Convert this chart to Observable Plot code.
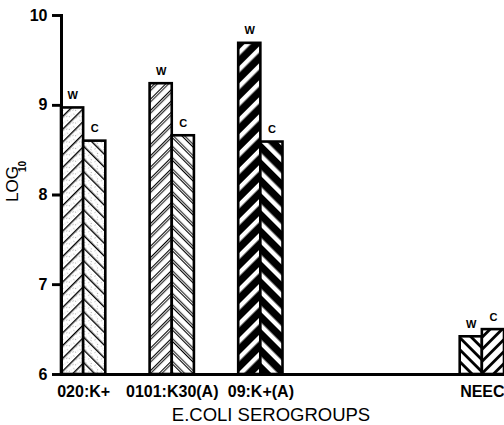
<!DOCTYPE html>
<html><head><meta charset="utf-8">
<script src="https://cdn.jsdelivr.net/npm/d3@7"></script>
<script src="https://cdn.jsdelivr.net/npm/@observablehq/plot@0.6"></script>
<style>body{margin:0;background:#fff}</style>
</head><body><div id="chart"></div>
<script>
// ---- data ----
const groups = ["020:K+", "0101:K30(A)", "09:K+(A)", "NEEC"];
const series = ["W", "C"];
const wValues = [8.97, 9.24, 9.69, 6.42];
const cValues = [8.60, 8.66, 8.59, 6.50];
const yTicks = [6, 7, 8, 9, 10];
const xTitle = "E.COLI SEROGROUPS";
const yTitle = "LOG";
const yTitleSub = "10";

// ---- layout helpers (not data): ordered slots for bars and empty gaps ----
const gapSlots = [2, 2, 8];
const key = (g, s) => g + "|" + s;
const slotDomain = [];
groups.forEach((g, i) => {
  series.forEach(s => slotDomain.push(key(g, s)));
  if (i < gapSlots.length) for (let k = 0; k < gapSlots[i]; k++) slotDomain.push("gap" + i + "_" + k);
});
const slot = (g, s) => slotDomain.indexOf(key(g, s));
const rows = groups.flatMap((g, i) => [
  {group: g, series: "W", value: wValues[i], gi: i},
  {group: g, series: "C", value: cValues[i], gi: i}
]);
const W = 504, marginLeft = 61, marginRight = 0;
const frameW = W - marginLeft - marginRight;
const tickLen = 9;
const FONT = "'Liberation Sans', Arial, Helvetica, sans-serif";

const plot = Plot.plot({
  width: W,
  height: 425,
  marginLeft, marginRight,
  marginTop: 15,
  marginBottom: 51,
  style: {fontFamily: FONT, background: "white", color: "black"},
  x: {domain: [0, slotDomain.length], axis: null},
  y: {domain: [yTicks[0], yTicks[yTicks.length - 1]], axis: null},
  color: {type: "identity"},
  marks: [
    Plot.rectY(rows, {
      x1: d => slot(d.group, d.series),
      x2: d => slot(d.group, d.series) + 1,
      y1: () => yTicks[0], y2: "value",
      fill: d => `url(#pat-${d.gi}-${d.series})`,
      stroke: "black", strokeWidth: 2.6
    }),
    Plot.text(rows, {
      x: d => slot(d.group, d.series) + 0.5, y: "value", text: "series",
      dy: -9, lineAnchor: "bottom", fontSize: 11, fontWeight: "bold"
    }),
    Plot.ruleY([yTicks[0]], {strokeWidth: 3}),
    Plot.frame({anchor: "left", strokeWidth: 3}),
    // explicit tick marks to the left of the axis line
    Plot.ruleY(yTicks, {
      y: d => d, dx: -tickLen, insetRight: frameW - tickLen,
      stroke: "black", strokeWidth: 2.6
    }),
    Plot.axisY(yTicks, {
      tickSize: tickLen, tickPadding: 5, stroke: "black", strokeWidth: 2.6, label: null,
      tickFormat: d => String(d),
      fontSize: 16, fontWeight: "bold"
    }),
    Plot.text(groups, {
      x: g => slot(g, "W") + 1, frameAnchor: "bottom", text: d => d,
      dy: 22, lineAnchor: "bottom",
      fontSize: 16, fontWeight: "bold"
    }),
    Plot.text([xTitle], {
      frameAnchor: "bottom", text: d => d, dx: -12, dy: 46, lineAnchor: "bottom",
      fontSize: 18.5
    }),
    Plot.text([yTitle], {
      frameAnchor: "left", text: d => d, rotate: -90, dx: -44, dy: 7,
      lineAnchor: "bottom", fontSize: 17
    }),
    Plot.text([yTitleSub], {
      frameAnchor: "left", text: d => d, rotate: -90, dx: -36, dy: -23,
      lineAnchor: "bottom", fontSize: 10, fontWeight: "bold"
    })
  ]
});

// ---- hatch patterns ----
const defs = d3.select(plot).insert("defs", ":first-child");
function hatch(id, angle, size, bg, stripes, dots) {
  const p = defs.append("pattern").attr("id", id)
    .attr("patternUnits", "userSpaceOnUse")
    .attr("width", size).attr("height", size)
    .attr("patternTransform", `rotate(${angle})`);
  p.append("rect").attr("width", size).attr("height", size).attr("fill", bg);
  for (const [x, w, c] of stripes)
    p.append("rect").attr("x", x).attr("y", 0).attr("width", w).attr("height", size).attr("fill", c);
  for (const [cx, cy, r, c] of (dots || []))
    p.append("circle").attr("cx", cx).attr("cy", cy).attr("r", r).attr("fill", c);
}
const stip = [[2, 2, 0.6, "#777"], [5.5, 6.5, 0.55, "#999"], [7, 1.5, 0.5, "#888"], [3.5, 8, 0.5, "#777"], [6, 4, 0.45, "#aaa"]];
// group 0: thin lines + stipple
hatch("pat-0-W", 45, 9, "white", [[0, 1.4, "black"]], stip);
hatch("pat-0-C", -45, 9, "white", [[0, 1.4, "black"]], stip);
// group 1: doubled thin lines
hatch("pat-1-W", 45, 8, "white", [[0, 1.1, "black"], [2.2, 0.9, "black"]]);
hatch("pat-1-C", -45, 8, "white", [[0, 1.1, "black"], [2.2, 0.9, "black"]]);
// group 2: black with white stripes
hatch("pat-2-W", 45, 12, "black", [[0, 4.5, "white"]]);
hatch("pat-2-C", -45, 12, "black", [[0, 4.5, "white"]]);
// NEEC: bold lines
hatch("pat-3-W", -45, 8.5, "white", [[0, 2.8, "black"]]);
hatch("pat-3-C", 45, 8.5, "white", [[0, 2.8, "black"]]);

document.getElementById("chart").append(plot);
</script>
</body></html>
